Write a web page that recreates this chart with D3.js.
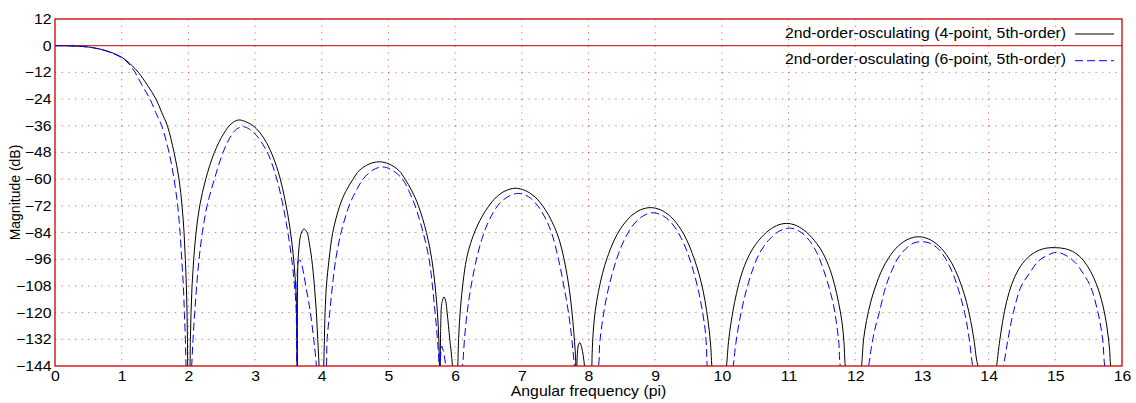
<!DOCTYPE html>
<html>
<head>
<meta charset="utf-8">
<script src="https://cdn.jsdelivr.net/npm/d3@7"></script>
<style>
  body { margin: 0; background: #fff; }
  text { font-family: "Liberation Sans", Arial, sans-serif; }
</style>
</head>
<body>
<div id="my_chart"></div>
<script>
// series (x in units of pi, magnitude in dB)
var freq4 = [0, 0.25, 0.5, 0.75, 1.0, 1.15, 1.25, 1.38, 1.515, 1.6, 1.685, 1.785, 1.86, 1.905, 1.935, 1.955, 1.97, 1.98, 1.986, 1.99, 2.005,
  2.025, 2.03, 2.04, 2.055, 2.08, 2.115, 2.17, 2.26, 2.39, 2.53, 2.64, 2.75,
  2.87, 2.97, 3.07, 3.17, 3.27, 3.37, 3.45, 3.52, 3.57, 3.60, 3.62, 3.633,
  3.638, 3.65, 3.69, 3.733, 3.78, 3.815, 3.85, 3.89, 3.92, 3.94, 3.96, 3.995,
  4.03, 4.05, 4.07, 4.11, 4.165, 4.27, 4.36, 4.47, 4.56, 4.71, 4.86,
  5.01, 5.16, 5.25, 5.35, 5.45, 5.57, 5.65, 5.70, 5.735, 5.755, 5.765, 5.772,
  5.785, 5.80, 5.833, 5.86, 5.88, 5.92, 5.96, 6.0,
  6.04, 6.055, 6.08, 6.12, 6.17, 6.23, 6.31, 6.40, 6.50, 6.62, 6.75, 6.90,
  7.05, 7.20, 7.35, 7.45, 7.53, 7.60, 7.66, 7.71, 7.75, 7.78, 7.80, 7.81, 7.818,
  7.83, 7.85, 7.87, 7.90, 7.94, 8.0,
  8.05, 8.055, 8.07, 8.10, 8.15, 8.21, 8.28, 8.38, 8.48, 8.63, 8.78, 8.93,
  9.08, 9.23, 9.38, 9.48, 9.58, 9.655, 9.72, 9.77, 9.81, 9.835, 9.85, 9.96,
  10.07, 10.10, 10.14, 10.19, 10.25, 10.32, 10.42, 10.52, 10.67, 10.82, 10.97,
  11.12, 11.27, 11.42, 11.52, 11.62, 11.69, 11.75, 11.80, 11.83, 11.85, 11.97,
  12.095, 12.105, 12.125, 12.17, 12.23, 12.30, 12.40, 12.50, 12.65, 12.80, 12.95,
  13.10, 13.25, 13.40, 13.50, 13.60, 13.67, 13.73, 13.78, 13.82, 13.84, 13.98,
  14.12, 14.16, 14.21, 14.27, 14.35, 14.45, 14.58, 14.73, 14.87, 15.0,
  15.15, 15.29, 15.42, 15.53, 15.62, 15.69, 15.75, 15.79, 15.815, 15.83, 16.0];
var mag4 = [0, -0.1, -0.6, -2.1, -5.2, -8.8, -12, -17.5, -24, -30, -36, -48, -60, -72, -84, -96, -108, -120, -132, -144, -175,
  -144, -132, -120, -108, -96, -84, -72, -60, -48, -39.5, -35.2, -33.4,
  -34.3, -36, -39, -43.5, -50, -59, -69.4, -81.3, -93.3, -103.8, -116, -175,
  -104, -94, -84.5, -82.4, -84, -89, -96, -108, -120, -132, -144, -175,
  -144, -120, -108, -96, -84, -72, -65.5, -60, -56.2, -53.2, -52.2,
  -53.2, -56.2, -60, -65.2, -72, -84, -96, -108, -120, -132, -144, -175,
  -125, -116, -112.9, -115, -120, -132, -144, -175,
  -144, -130, -118, -106, -96, -89, -82.5, -77, -72.3, -68, -65.3, -64.1,
  -65.1, -68.1, -73.6, -79, -84.5, -91.5, -100, -109, -119, -129, -137, -144, -170,
  -140, -134.5, -133.5, -136, -144, -175,
  -144, -138, -129, -119.5, -110.4, -102.4, -95.4, -87.8, -82.3, -76.8, -73.8, -72.8,
  -73.8, -76.8, -82.3, -87.8, -95.4, -102.4, -110.4, -119, -128, -136, -144, -175,
  -144, -133, -124, -115.5, -107.5, -100.5, -93.5, -88.8, -83.9, -80.9, -79.9,
  -80.9, -83.9, -88.8, -93.5, -100.5, -107.5, -115.5, -124, -133, -144, -175,
  -144, -140, -132, -123.5, -115.5, -108.5, -100.9, -95.4, -89.9, -86.9, -85.9,
  -86.9, -89.9, -95.4, -100.9, -108.5, -115.5, -123.5, -132.2, -141.3, -144, -175,
  -144, -134, -124, -115, -107, -100.5, -95.5, -92.3, -91.0, -90.8,
  -91.3, -93, -96.5, -101.5, -107.5, -114, -122, -130, -137, -144, -175];

var freq6 = [0, 0.25, 0.5, 0.75, 1.0, 1.10, 1.20, 1.31, 1.425, 1.51, 1.60, 1.71, 1.785, 1.84, 1.875, 1.90, 1.925, 1.94, 1.955, 1.965, 2.005,
  2.05, 2.07, 2.095, 2.125, 2.16, 2.21, 2.28, 2.39, 2.52, 2.62, 2.72, 2.82,
  2.92, 3.02, 3.12, 3.20, 3.27, 3.34, 3.41, 3.47, 3.52, 3.56, 3.59, 3.615, 3.633,
  3.636, 3.65, 3.674, 3.70, 3.73, 3.76, 3.80, 3.83, 3.88, 3.92, 3.99,
  4.07, 4.08, 4.12, 4.16, 4.21, 4.29, 4.41, 4.51, 4.62, 4.76, 4.91,
  5.06, 5.21, 5.31, 5.40, 5.52, 5.61, 5.66, 5.70, 5.735, 5.76, 5.775,
  5.785, 5.80, 5.82, 5.86, 5.95,
  6.11, 6.14, 6.18, 6.24, 6.32, 6.40, 6.48, 6.57, 6.68, 6.81, 6.95,
  7.10, 7.24, 7.35, 7.45, 7.55, 7.63, 7.70, 7.75, 7.79, 7.90,
  8.15, 8.165, 8.19, 8.24, 8.30, 8.37, 8.45, 8.55, 8.67, 8.82, 8.97,
  9.12, 9.27, 9.39, 9.49, 9.57, 9.64, 9.70, 9.75, 9.77, 9.78, 9.95,
  10.17, 10.20, 10.25, 10.31, 10.38, 10.47, 10.57, 10.70, 10.86, 11.01,
  11.16, 11.31, 11.43, 11.52, 11.60, 11.67, 11.72, 11.755, 11.775, 11.98,
  12.20, 12.24, 12.29, 12.36, 12.46, 12.55, 12.63, 12.75, 12.87, 13.0,
  13.13, 13.25, 13.36, 13.45, 13.53, 13.64, 13.71, 13.76, 13.95,
  14.22, 14.29, 14.37, 14.49, 14.61, 14.74, 14.88, 15.02,
  15.16, 15.30, 15.42, 15.525, 15.64, 15.71, 15.74, 15.90];
var mag6 = [0, -0.1, -0.6, -2.2, -5.4, -7.9, -12, -18, -24, -30, -36, -48, -60, -72, -84, -96, -108, -120, -132, -144, -175,
  -144, -132, -120, -108, -96, -84, -72, -60, -48, -41.5, -37.6, -36.4,
  -37.6, -40.3, -44.5, -49, -54.5, -61.5, -70.5, -80, -89.5, -98.5, -107.5, -118, -175,
  -100, -96.8, -96.4, -98.5, -102.5, -108, -114.5, -120, -132, -144, -175,
  -144, -132, -120, -108, -96, -84, -72, -65.5, -60, -56.0, -54.5,
  -56.0, -60, -65.5, -72, -84, -96, -108, -120, -132, -144, -175,
  -138, -135, -137, -144, -175,
  -144, -132, -120, -108, -96, -87, -80.5, -75, -70.5, -67.6, -66.4,
  -67.9, -72, -77.4, -84.5, -96, -108, -120, -132, -144, -175,
  -144, -135, -128, -118, -109, -101, -93.5, -86.5, -80.6, -76.5, -75.1,
  -76.5, -80.6, -86.5, -93.5, -101, -109, -118, -128, -136, -144, -175,
  -144, -136, -126, -117, -108.5, -100, -93, -87.5, -83.4, -82,
  -83.4, -87.5, -93.4, -100.4, -108, -116, -125, -134, -144, -175,
  -144, -136, -128, -120, -108, -101, -96, -91.5, -88.8, -88.1,
  -88.9, -91.5, -96, -101.5, -108, -120, -132, -144, -175,
  -144, -132, -120, -108, -102.5, -97, -94.3, -92.9,
  -94.3, -97.5, -102.5, -108, -120, -132, -144, -175];

var seriesNames = ["2nd-order-osculating (4-point, 5th-order)", "2nd-order-osculating (6-point, 5th-order)"];
var seriesColors = ["#000000", "#0000ff"];
var seriesDash = [null, "8,4"];
var xTicks = [0, 1, 2, 3, 4, 5, 6, 7, 8, 9, 10, 11, 12, 13, 14, 15, 16];
var yTicks = [12, 0, -12, -24, -36, -48, -60, -72, -84, -96, -108, -120, -132, -144];

var margin = {top: 19, right: 14, bottom: 37, left: 55},
    width = 1136 - margin.left - margin.right,
    height = 403 - margin.top - margin.bottom;

// the picture is a little wider than tall, so text is stretched sideways
var stretch = 1.13;

var svg = d3.select("#my_chart")
    .append("svg")
    .attr("width", 1136)
    .attr("height", 403)
    .append("g")
    .attr("transform", "translate(" + margin.left + "," + margin.top + ")");

var x = d3.scaleLinear().domain([0, 16]).range([0, width]);
var y = d3.scaleLinear().domain([-144, 12]).range([height, 0]);

svg.append("clipPath")
    .attr("id", "plot-clip")
    .append("rect")
    .attr("width", width)
    .attr("height", height);

// dotted grid
svg.selectAll(".vgrid")
    .data(xTicks.filter(function(d) { return d > 0 && d < 16; }))
    .enter()
    .append("line")
    .attr("x1", function(d) { return x(d); })
    .attr("x2", function(d) { return x(d); })
    .attr("y1", 0)
    .attr("y2", height)
    .attr("stroke", "#cc0000")
    .attr("stroke-opacity", 0.6)
    .attr("stroke-dasharray", "1.2,5.47");

svg.selectAll(".hgrid")
    .data(yTicks.filter(function(d) { return d < 12 && d > -144 && d !== 0; }))
    .enter()
    .append("line")
    .attr("x1", 0)
    .attr("x2", width)
    .attr("y1", function(d) { return y(d); })
    .attr("y2", function(d) { return y(d); })
    .attr("stroke", "#cc0000")
    .attr("stroke-opacity", 0.6)
    .attr("stroke-dasharray", "1.2,5.47");

// 0 dB line
svg.append("line")
    .attr("x1", 0)
    .attr("x2", width)
    .attr("y1", y(0))
    .attr("y2", y(0))
    .attr("stroke", "#cc0000")
    .attr("stroke-width", 1);

var line = d3.line()
    .x(function(d) { return x(d[0]); })
    .y(function(d) { return y(d[1]); })
    .curve(d3.curveCatmullRom.alpha(0.5));

var series = [d3.zip(freq4, mag4), d3.zip(freq6, mag6)];

svg.append("g")
    .attr("clip-path", "url(#plot-clip)")
    .selectAll("path")
    .data(series)
    .enter()
    .append("path")
    .attr("d", line)
    .attr("fill", "none")
    .attr("stroke", function(d, i) { return seriesColors[i]; })
    .attr("stroke-width", 1)
    .attr("stroke-dasharray", function(d, i) { return seriesDash[i]; });

// frame
svg.append("rect")
    .attr("width", width)
    .attr("height", height)
    .attr("fill", "none")
    .attr("stroke", "#cc0000")
    .attr("stroke-width", 1.3);

// axes
var xAxis = svg.append("g")
    .attr("transform", "translate(0," + height + ")")
    .call(d3.axisBottom(x).tickValues(xTicks).tickSize(0).tickPadding(5).tickFormat(d3.format("d")));
xAxis.select(".domain").remove();
xAxis.selectAll("text")
    .attr("font-size", "14px")
    .attr("font-family", "Liberation Sans, Arial, sans-serif")
    .attr("fill", "#000")
    .attr("transform", "scale(" + stretch + ",1)");

var yAxis = svg.append("g")
    .call(d3.axisLeft(y).tickValues(yTicks).tickSize(0).tickPadding(3).tickFormat(d3.format("d")));
yAxis.select(".domain").remove();
yAxis.selectAll("text")
    .attr("font-size", "14px")
    .attr("font-family", "Liberation Sans, Arial, sans-serif")
    .attr("fill", "#000")
    .attr("transform", "scale(" + stretch + ",1)");

svg.append("text")
    .attr("transform", "translate(" + (width / 2) + "," + (height + 30) + ") scale(" + stretch + ",1)")
    .attr("text-anchor", "middle")
    .attr("font-size", "14px")
    .text("Angular frequency (pi)");

svg.append("text")
    .attr("transform", "translate(" + (20 - margin.left) + "," + (height / 2) + ") rotate(-90)")
    .attr("text-anchor", "middle")
    .attr("font-size", "14px")
    .text("Magnitude (dB)");

// legend, no box
var legend = svg.selectAll(".legend")
    .data(seriesNames)
    .enter()
    .append("g")
    .attr("transform", function(d, i) { return "translate(0," + (15 + i * 26.7) + ")"; });

legend.append("text")
    .attr("transform", "translate(" + (width - 56) + ",3.5) scale(" + stretch + ",1)")
    .attr("text-anchor", "end")
    .attr("font-size", "14px")
    .text(function(d) { return d; });

legend.append("line")
    .attr("x1", width - 47)
    .attr("x2", width - 8)
    .attr("y1", 0)
    .attr("y2", 0)
    .attr("stroke", function(d, i) { return seriesColors[i]; })
    .attr("stroke-dasharray", function(d, i) { return seriesDash[i]; });
</script>
</body>
</html>
